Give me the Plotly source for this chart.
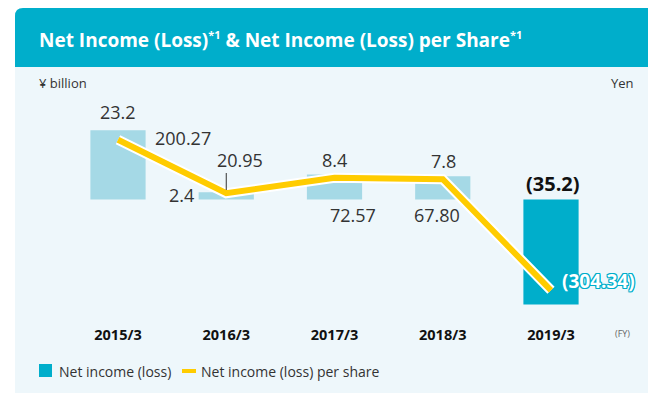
import plotly.graph_objects as go

# ---- data ----
years = ["2015/3", "2016/3", "2017/3", "2018/3", "2019/3"]
net_income = [23.2, 2.4, 8.4, 7.8, -35.2]          # ¥ billion
eps = [200.27, 20.95, 72.57, 67.80, -304.34]         # Yen
income_labels = ["23.2", "2.4", "8.4", "7.8", "(35.2)"]
eps_labels = ["200.27", "20.95", "72.57", "67.80", "(304.34)"]

W, H = 648, 400
FONT = "Open Sans"
TEAL = "#00AECB"
LIGHT_BAR = "#A5D9E6"
YELLOW = "#FFCC00"
TXT = "#333333"

def px(x):
    return x / W

def py(y):
    return 1 - y / H

# axis geometry (pixels)
plot_top, plot_bot = 100, 320
zero_px = 199.5
bil_per_px = 1 / 2.98
yen_per_px = 3.35
y1_range = [-(plot_bot - zero_px) * bil_per_px, (zero_px - plot_top) * bil_per_px]
y2_range = [-(plot_bot - zero_px) * yen_per_px, (zero_px - plot_top) * yen_per_px]

bar_colors = [LIGHT_BAR] * 4 + [TEAL]

fig = go.Figure()
fig.add_trace(go.Bar(x=years, y=net_income, marker=dict(color=bar_colors, line=dict(width=0)),
                     width=0.51, name="Net income (loss)", hoverinfo="skip"))
fig.add_trace(go.Scatter(x=years, y=eps, yaxis="y2", mode="lines",
                         line=dict(color="white", width=10), hoverinfo="skip", showlegend=False))
fig.add_trace(go.Scatter(x=years, y=eps, yaxis="y2", mode="lines",
                         line=dict(color=YELLOW, width=6), name="Net income (loss) per share",
                         hoverinfo="skip"))

shapes = []
# card background
shapes.append(dict(type="rect", xref="paper", yref="paper", x0=px(15), x1=1.0, y0=py(393), y1=py(60),
                   fillcolor="#EEF7FB", line=dict(width=0), layer="below"))
# title band with rounded top-left corner
r = 8
x0, y0, x1, y1 = 15, 8, W, 67
path = (f"M {px(x0)},{py(y1)} L {px(x0)},{py(y0 + r)} "
        f"Q {px(x0)},{py(y0)} {px(x0 + r)},{py(y0)} L {px(x1)},{py(y0)} L {px(x1)},{py(y1)} Z")
shapes.append(dict(type="path", xref="paper", yref="paper", path=path,
                   fillcolor=TEAL, line=dict(width=0), layer="below"))
# callout line for 20.95
shapes.append(dict(type="line", xref="x", yref="paper", x0=years[1], x1=years[1],
                   y0=py(190), y1=py(173), line=dict(color=TXT, width=1)))
# legend symbols
shapes.append(dict(type="rect", xref="paper", yref="paper", x0=px(39), x1=px(52), y0=py(377), y1=py(364),
                   fillcolor=TEAL, line=dict(width=0)))
shapes.append(dict(type="rect", xref="paper", yref="paper", x0=px(182), x1=px(196), y0=py(373), y1=py(369),
                   fillcolor=YELLOW, line=dict(width=0)))

ann = []
sup = "<sup><span style='font-size:11px'>*1</span></sup>"
ann.append(dict(text=f"Net Income (Loss){sup} & Net Income (Loss) per Share{sup}",
                xref="paper", yref="paper", x=px(37), y=py(40), xanchor="left", yanchor="middle",
                showarrow=False, font=dict(family=FONT, size=19, color="white", weight="bold")))
ann.append(dict(text="¥ billion", xref="paper", yref="paper", x=px(37), y=py(83), xanchor="left",
                yanchor="middle", showarrow=False, font=dict(family=FONT, size=13, color=TXT)))
ann.append(dict(text="Yen", xref="paper", yref="paper", x=px(636), y=py(83), xanchor="right",
                yanchor="middle", showarrow=False, font=dict(family=FONT, size=13, color=TXT)))
ann.append(dict(text="(FY)", xref="paper", yref="paper", x=px(622), y=py(333), xanchor="center",
                yanchor="middle", showarrow=False, font=dict(family=FONT, size=9, color="#666666")))
ann.append(dict(text="Net income (loss)", xref="paper", yref="paper", x=px(57), y=py(371), xanchor="left",
                yanchor="middle", showarrow=False, font=dict(family=FONT, size=14, color=TXT)))
ann.append(dict(text="Net income (loss) per share", xref="paper", yref="paper", x=px(199), y=py(371),
                xanchor="left", yanchor="middle", showarrow=False, font=dict(family=FONT, size=14, color=TXT)))

# bar value labels: (anchor value, xshift, yshift)
bar_offsets = [(net_income[0], 0, 18), (net_income[1], -45, -3), (net_income[2], 0, 14.5),
               (net_income[3], 1, 15), (0, 2, 16.5)]
for i, (yv, xs, ys) in enumerate(bar_offsets):
    bold = net_income[i] < 0
    ann.append(dict(text=income_labels[i], x=years[i], y=yv, xref="x", yref="y", xshift=xs, yshift=ys,
                    xanchor="center", yanchor="middle", showarrow=False,
                    font=dict(family=FONT, size=20 if bold else 18, color="#111111" if bold else TXT,
                              weight="bold" if bold else "normal")))

eps_offsets = [(65, 2), (14, 33), (18, -37), (-6, -36), (47, 9)]
for i, (xs, ys) in enumerate(eps_offsets):
    neg = eps[i] < 0
    f = dict(family=FONT, size=18, color=TXT)
    if neg:
        f = dict(family=FONT, size=19, color="white", weight="bold",
                 shadow=f"1px 0 {TEAL}, -1px 0 {TEAL}, 0 1px {TEAL}, 0 -1px {TEAL}, "
                        f"1px 1px {TEAL}, -1px -1px {TEAL}, 1px -1px {TEAL}, -1px 1px {TEAL}")
    ann.append(dict(text=eps_labels[i], x=years[i], y=eps[i], xref="x", yref="y2", xshift=xs, yshift=ys,
                    xanchor="center", yanchor="middle", showarrow=False, font=f))

cat_w = 108.25
x_left = 118 - cat_w / 2
x_right = x_left + 5 * cat_w

fig.update_layout(
    width=W, height=H, margin=dict(l=0, r=0, t=0, b=0),
    paper_bgcolor="white", plot_bgcolor="rgba(0,0,0,0)",
    showlegend=False, shapes=shapes, annotations=ann,
    xaxis=dict(domain=[px(x_left), px(x_right)], range=[-0.5, 4.5], showgrid=False, zeroline=False,
               showline=False, ticks="", ticklabelstandoff=4,
               tickfont=dict(family=FONT, size=14.5, color="#111111", weight="bold")),
    yaxis=dict(domain=[py(plot_bot), py(plot_top)], range=y1_range, visible=False, showgrid=False),
    yaxis2=dict(domain=[py(plot_bot), py(plot_top)], range=y2_range, overlaying="y", side="right",
                visible=False, showgrid=False),
    bargap=0.49,
)

fig.write_html("out.html", config={"displayModeBar": False},
               post_script="document.body.style.margin='0';document.body.style.overflow='hidden';")
